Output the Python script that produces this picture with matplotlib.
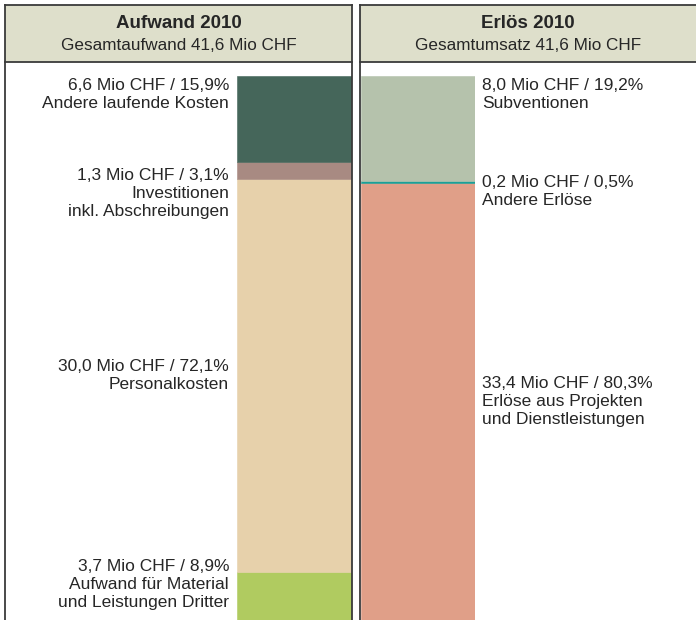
import matplotlib
matplotlib.use("Agg")
import matplotlib.pyplot as plt
from matplotlib.patches import Rectangle
from matplotlib.lines import Line2D
import matplotlib.transforms as mtransforms

plt.rcParams['font.family'] = ['Liberation Sans', 'DejaVu Sans']

# Daten (Mio CHF), von unten nach oben
aufwand_values = [3.7, 30.0, 1.3, 6.6]
aufwand_pct = [8.9, 72.1, 3.1, 15.9]
aufwand_names = ["Aufwand für Material\nund Leistungen Dritter", "Personalkosten",
                 "Investitionen\ninkl. Abschreibungen", "Andere laufende Kosten"]
aufwand_colors = ["#b0cb60", "#e7d1ab", "#a88a82", "#45665a"]
aufwand_label_y = [2.7, 18.7, 32.6, 40.2]

erloes_values = [33.4, 0.2, 8.0]
erloes_pct = [80.3, 0.5, 19.2]
erloes_names = ["Erlöse aus Projekten\nund Dienstleistungen", "Andere Erlöse", "Subventionen"]
erloes_colors = ["#e09f88", "#1aa097", "#b5c2ac"]
erloes_label_y = [16.7, 32.8, 40.2]

titles = ["Aufwand 2010", "Erlös 2010"]
subtitles = ["Gesamtaufwand 41,6 Mio CHF", "Gesamtumsatz 41,6 Mio CHF"]
total = 41.6

W, H = 696, 620
fig = plt.figure(figsize=(W / 100, H / 100), dpi=100)
fig.patch.set_facecolor("white")

def fx(px):
    return px / W

def fy(py):
    return 1 - py / H

def fmt(v):
    return f"{v:.1f}".replace(".", ",")

head_col = "#dedfcb"
line_col = "#3a3a3a"
txt_col = "#262626"

# Kopfbereiche und Rahmen
panels = [(5, 352), (360, 700)]
for (x0, x1), t, s in zip(panels, titles, subtitles):
    fig.patches.append(Rectangle((fx(x0), fy(62)), fx(x1 - x0), fy(5) - fy(62),
                                 transform=fig.transFigure, facecolor=head_col,
                                 edgecolor="none", zorder=0))
    fig.lines.append(Line2D([fx(x0), fx(x1)], [fy(5), fy(5)], transform=fig.transFigure,
                            color=line_col, lw=1.3))
    fig.lines.append(Line2D([fx(x0), fx(x1)], [fy(62), fy(62)], transform=fig.transFigure,
                            color=line_col, lw=1.3))
    cx = fx((x0 + min(x1, W)) / 2)
    fig.text(cx, fy(24), t, ha="center", va="center", fontsize=13.5,
             fontweight="bold", color=txt_col)
    fig.text(cx, fy(46), s, ha="center", va="center", fontsize=12.3, color=txt_col)

for xv in [5, 352, 360]:
    fig.lines.append(Line2D([fx(xv), fx(xv)], [fy(5), fy(H)], transform=fig.transFigure,
                            color=line_col, lw=1.3))

bar_top = 76

def draw_bar(x0, x1, values, pct, names, colors, label_y, side):
    ax = fig.add_axes([fx(x0), 0, fx(x1 - x0), fy(bar_top)])
    ax.set_xlim(-0.5, 0.5)
    ax.set_ylim(0, total)
    ax.axis("off")
    bottom = 0
    for v, c in zip(values, colors):
        ax.bar(0, v, width=1.0, bottom=bottom, color=c, edgecolor=c, linewidth=0.4)
        bottom += v
    trans = mtransforms.blended_transform_factory(ax.transAxes, ax.transData)
    for v, p, n, y in zip(values, pct, names, label_y):
        label = f"{fmt(v)} Mio CHF / {fmt(p)}%\n{n}"
        if side == "left":
            ax.text(-8 / (x1 - x0), y, label, transform=trans, ha="right", va="center",
                    multialignment="right", fontsize=12.5, color=txt_col, linespacing=1.25,
                    clip_on=False)
        else:
            ax.text(1 + 7 / (x1 - x0), y, label, transform=trans, ha="left", va="center",
                    multialignment="left", fontsize=12.5, color=txt_col, linespacing=1.25,
                    clip_on=False)
    return ax

draw_bar(237, 352, aufwand_values, aufwand_pct, aufwand_names, aufwand_colors,
         aufwand_label_y, "left")
draw_bar(361, 475, erloes_values, erloes_pct, erloes_names, erloes_colors,
         erloes_label_y, "right")

fig.savefig("out.png", dpi=100)
